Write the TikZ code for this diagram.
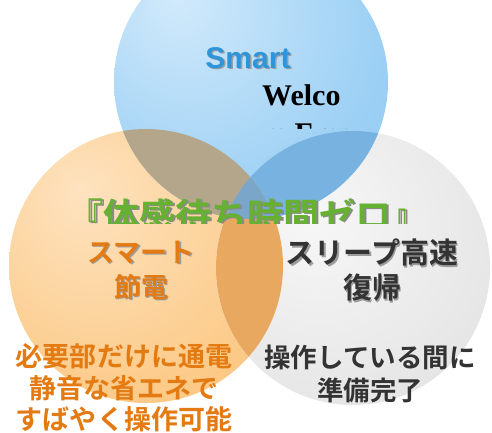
\documentclass[tikz,border=0pt]{standalone}
\usepackage{fontspec}
\usepackage{tikz}
\newfontfamily\jpfont{Noto Sans CJK JP}[BoldFont={Noto Sans CJK JP Bold}]
\newfontfamily\smartfont{Liberation Sans}
\newfontfamily\welfont{Liberation Serif}

\definecolor{blueIn}{HTML}{D2EAFB}
\definecolor{blueMid}{HTML}{9CD0F4}
\definecolor{blueOut}{HTML}{86C2EE}
\definecolor{orIn}{HTML}{FDE3C0}
\definecolor{orMid}{HTML}{FCCB8A}
\definecolor{orOut}{HTML}{F8B263}
\definecolor{grIn}{HTML}{F7F7F7}
\definecolor{grMid}{HTML}{E7E7E7}
\definecolor{grOut}{HTML}{D0D0D0}
\definecolor{ovBO}{HTML}{B4A68A}
\definecolor{ovBG}{HTML}{78B2E0}
\definecolor{ovOG}{HTML}{E8A860}
\definecolor{ovAll}{HTML}{7AA6CA}
\definecolor{txtBlue}{HTML}{2F95DA}
\definecolor{txtOrange}{HTML}{E47A12}
\definecolor{txtDark}{HTML}{333333}
\definecolor{txtGreen}{HTML}{66B032}
\definecolor{shadeGray}{HTML}{9C9C9C}
\definecolor{shadeDark}{HTML}{8A8A8A}

\pgfdeclareradialshading{blueball}{\pgfpoint{-14bp}{16bp}}{color(0bp)=(blueIn); color(32bp)=(blueMid); color(60bp)=(blueOut); color(80bp)=(blueOut)}
\pgfdeclareradialshading{orball}{\pgfpoint{-12bp}{14bp}}{color(0bp)=(orIn); color(32bp)=(orMid); color(60bp)=(orOut); color(80bp)=(orOut)}
\pgfdeclareradialshading{grball}{\pgfpoint{-8bp}{10bp}}{color(0bp)=(grIn); color(30bp)=(grMid); color(60bp)=(grOut); color(80bp)=(grOut)}

\begin{document}
\begin{tikzpicture}[x=1pt,y=-1pt,
  txtshade/.style={color=shadeGray},
  jpbig/.style={font=\jpfont\bfseries\fontsize{#1}{35}\selectfont, inner sep=0pt, align=center}]

\path[use as bounding box] (0,0) rectangle (492,432);
\clip (0,0) rectangle (492,432);

% centres of the three circles
\coordinate (cblue) at (251,82);
\coordinate (cor) at (146,266);
\coordinate (cgr) at (353,268);

\shade[shading=orball] (cor) circle [radius=137pt];
\shade[shading=grball] (cgr) circle [radius=137pt];
\shade[shading=blueball] (cblue) circle [radius=137pt];

% overlaps
\begin{scope}
  \clip (cblue) circle [radius=137pt];
  \fill[ovBO] (cor) circle [radius=137pt];
  \fill[ovBG] (cgr) circle [radius=137pt];
\end{scope}
\begin{scope}
  \clip (cor) circle [radius=137pt];
  \fill[ovOG] (cgr) circle [radius=137pt];
  \clip (cgr) circle [radius=137pt];
  \fill[ovAll] (cblue) circle [radius=137pt];
\end{scope}

% top circle texts
\node[txtshade, anchor=base, inner sep=0pt, font=\smartfont\bfseries\fontsize{30}{36}\selectfont] (smart-s) at (249.5,69.5) {Smart};
\node[txtBlue, anchor=base, inner sep=0pt, font=\smartfont\bfseries\fontsize{30}{36}\selectfont] (smart) at (248,68) {Smart};
\node[anchor=base west, inner sep=0pt, font=\welfont\bfseries\fontsize{30}{36}\selectfont] (welco) at (262,105) {Welco};
\begin{scope}
  \clip (240,110) rectangle (380,128);
  \node[anchor=base west, inner sep=0pt, font=\welfont\bfseries\fontsize{30}{36}\selectfont] (welcotwo) at (262,143) {m Free};
\end{scope}

% slogan, cut at the bottom
\begin{scope}
  \clip (60,185) rectangle (440,223);
  \node[shadeDark, anchor=base, inner sep=0pt, font=\jpfont\bfseries\fontsize{36}{40}\selectfont] (slogan-s) at (249,230.5) {『体感待ち時間ゼロ』};
  \node[txtGreen, anchor=base, inner sep=0pt, font=\jpfont\bfseries\fontsize{36}{40}\selectfont] (slogan) at (247.5,229) {『体感待ち時間ゼロ』};
\end{scope}

\node[txtshade, jpbig=27] (save-s) at (142.5,271.5) {スマート\\節電};
\node[txtOrange, jpbig=27] (save) at (141,270) {スマート\\節電};
\node[txtshade, jpbig=29] (sleep-s) at (373.5,271.5) {スリープ高速\\復帰};
\node[txtDark, jpbig=29] (sleep) at (372,270) {スリープ高速\\復帰};

\node[txtOrange, inner sep=0pt, align=center, font=\jpfont\bfseries\fontsize{27}{31.5}\selectfont] (savenote) at (124,388) {必要部だけに通電\\静音な省エネで\\すばやく操作可能};
\node[txtDark, inner sep=0pt, align=center, font=\jpfont\bfseries\fontsize{26.5}{33}\selectfont] (sleepnote) at (370,374) {操作している間に\\準備完了};
\end{tikzpicture}
\end{document}
